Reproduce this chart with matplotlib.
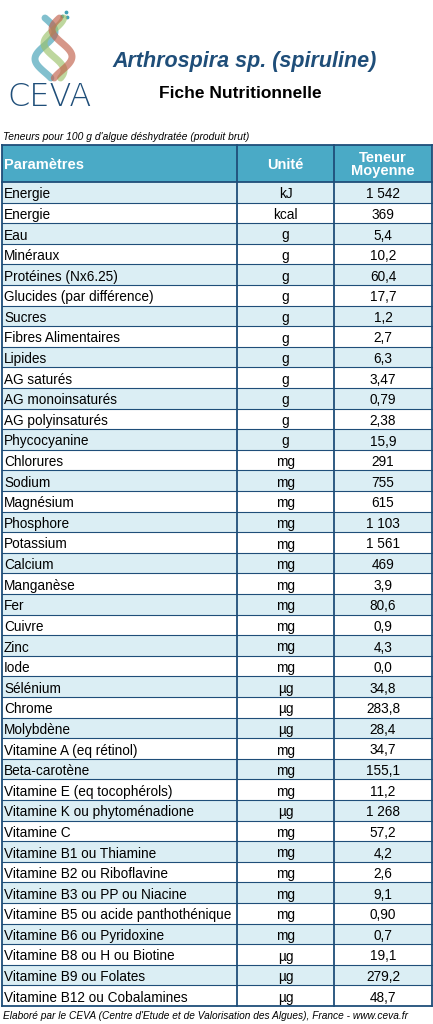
import matplotlib.pyplot as plt
import numpy as np

params = ["Energie", "Energie", "Eau", "Minéraux", "Protéines (Nx6.25)", "Glucides (par différence)",
          "Sucres", "Fibres Alimentaires", "Lipides", "AG saturés", "AG monoinsaturés",
          "AG polyinsaturés", "Phycocyanine", "Chlorures", "Sodium", "Magnésium", "Phosphore",
          "Potassium", "Calcium", "Manganèse", "Fer", "Cuivre", "Zinc", "Iode", "Sélénium",
          "Chrome", "Molybdène", "Vitamine A (eq rétinol)", "Beta-carotène",
          "Vitamine E (eq tocophérols)", "Vitamine K ou phytoménadione", "Vitamine C",
          "Vitamine B1 ou Thiamine", "Vitamine B2 ou Riboflavine", "Vitamine B3 ou PP ou Niacine",
          "Vitamine B5 ou acide panthothénique", "Vitamine B6 ou Pyridoxine",
          "Vitamine B8 ou H ou Biotine", "Vitamine B9 ou Folates", "Vitamine B12 ou Cobalamines"]
units = ["kJ", "kcal", "g", "g", "g", "g", "g", "g", "g", "g", "g", "g", "g",
         "mg", "mg", "mg", "mg", "mg", "mg", "mg", "mg", "mg", "mg", "mg", "µg",
         "µg", "µg", "mg", "mg", "mg", "µg", "mg", "mg", "mg", "mg", "mg", "mg",
         "µg", "µg", "µg"]
values = ["1 542", "369", "5,4", "10,2", "60,4", "17,7", "1,2", "2,7", "6,3", "3,47", "0,79",
          "2,38", "15,9", "291", "755", "615", "1 103", "1 561", "469", "3,9", "80,6", "0,9",
          "4,3", "0,0", "34,8", "283,8", "28,4", "34,7", "155,1", "11,2", "1 268", "57,2",
          "4,2", "2,6", "9,1", "0,90", "0,7", "19,1", "279,2", "48,7"]

plt.rcParams['font.family'] = ['Liberation Sans', 'DejaVu Sans']

W, H = 433, 1024
fig = plt.figure(figsize=(W / 100, H / 100), dpi=100)
ax = fig.add_axes([0, 0, 1, 1])
ax.set_xlim(0, W)
ax.set_ylim(H, 0)
ax.axis("off")

navy = "#1f4e79"
head = "#4aaac6"
light = "#dbeef4"
cols = [2, 237, 334, 432]
top, hh = 145, 37
y0 = top + hh
rh = (1006 - y0) / len(params)

# header
ax.add_patch(plt.Rectangle((cols[0], top), cols[3] - cols[0], hh, fc=head, ec="none"))
ax.text(4, top + hh / 2 + 1.5, "Paramètres", color="white", fontweight="bold", fontsize=10.5, va="center")
ax.text((cols[1] + cols[2]) / 2, top + hh / 2 + 1.5, "Unité", color="white", fontweight="bold",
        fontsize=10.5, va="center", ha="center")
ax.text((cols[2] + cols[3]) / 2, top + hh / 2 + 1, "Teneur\nMoyenne", color="white",
        fontweight="bold", fontsize=10.5, va="center", ha="center", linespacing=1.0)

for i, (p, u, v) in enumerate(zip(params, units, values)):
    y = y0 + i * rh
    if i % 2 == 0:
        ax.add_patch(plt.Rectangle((cols[0], y), cols[3] - cols[0], rh, fc=light, ec="none"))
    cy = y + rh / 2 + 2
    ax.text(4, cy, p, fontsize=9.8, va="center")
    ax.text((cols[1] + cols[2]) / 2, cy, u, fontsize=9.8, va="center", ha="center")
    ax.text((cols[2] + cols[3]) / 2, cy, v, fontsize=9.8, va="center", ha="center")

bottom = y0 + len(params) * rh
for i in range(len(params) + 2):
    y = top if i == 0 else y0 + (i - 1) * rh
    ax.plot([cols[0], cols[3]], [y, y], color=navy, lw=1.3 if i < 2 or i == len(params) + 1 else 0.8)
for x in cols:
    ax.plot([x, x], [top, bottom], color=navy, lw=1.3)

# titles
ax.text(245, 62, "Arthrospira sp. (spiruline)", color=navy, fontsize=15.5,
        fontweight="bold", style="italic", ha="center", va="center")
ax.text(240, 94, "Fiche Nutritionnelle", fontsize=12.5, fontweight="bold", ha="center", va="center")
ax.text(3, 137, "Teneurs pour 100 g d'algue déshydratée (produit brut)", fontsize=7.4,
        style="italic", va="center")
ax.text(3, 1016, "Elaboré par le CEVA (Centre d'Etude et de Valorisation des Algues), France - www.ceva.fr",
        fontsize=7.3, style="italic", va="center")

# logo
t = np.linspace(0, 1, 60)
for dx, c in [(0, "#3f9fb5"), (9, "#9cc26a"), (17, "#c0604a")]:
    xs = 45 + dx + 10 * np.sin(t * 2.2 * np.pi + dx / 5)
    ys = 18 + t * 60
    ax.plot(xs, ys, color=c, lw=5, alpha=0.65, solid_capstyle="round")
ax.scatter([66, 67, 62], [12, 17, 16], s=3, color="#3f9fb5")
ax.text(50, 97, "CEVA", color=navy, fontsize=23, ha="center", va="center",
        family="DejaVu Sans", fontweight="light")

fig.savefig("out.png", dpi=100)
